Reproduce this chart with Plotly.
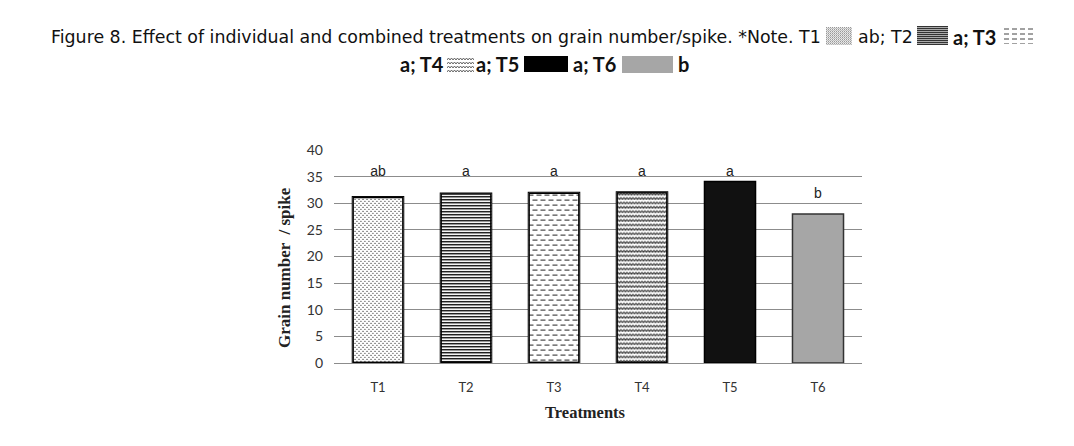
import base64
import plotly.graph_objects as go

# ---------------- data ----------------
treatments = ["T1", "T2", "T3", "T4", "T5", "T6"]
grain_per_spike = [31.2, 31.9, 32.0, 32.1, 34.1, 28.0]
letters = ["ab", "a", "a", "a", "a", "b"]
letter_y = [35.7, 35.7, 35.7, 35.7, 35.7, 31.6]
y_ticks = [0, 5, 10, 15, 20, 25, 30, 35, 40]

# ---------------- styles ----------------
bar_colors = ["white", "white", "white", "white", "#111111", "#a6a6a6"]
bar_line = ["#000000", "#000000", "#000000", "#000000", "#000000", "#333333"]
textures = ["dots", "hlines", "dashes", "waves", None, None]

W, H = 1074, 446
L, R, T, B = 334, 212, 150, 83
PW, PH = W - L - R, H - T - B
BARGAP = 0.42
Y_MAX = 40


def xp(px):
    return (px - L) / PW


def yp(py):
    return (H - B - py) / PH


def svg_uri(body, w, h):
    svg = (f'<svg xmlns="http://www.w3.org/2000/svg" width="{w:.2f}" height="{h:.2f}" '
           f'viewBox="0 0 {w:.2f} {h:.2f}">{body}</svg>')
    return "data:image/svg+xml;base64," + base64.b64encode(svg.encode()).decode()


def pat_body(inner, pw, ph, w, h, bg="white", border=None):
    s = (f'<defs><pattern id="p" width="{pw}" height="{ph}" patternUnits="userSpaceOnUse">'
         f'{inner}</pattern></defs><rect width="{w}" height="{h}" fill="{bg}"/>'
         f'<rect width="{w}" height="{h}" fill="url(#p)"/>')
    if border:
        s += (f'<rect x="0.7" y="0.7" width="{w - 1.4}" height="{h - 1.4}" fill="none" '
              f'stroke="{border}" stroke-width="1.4"/>')
    return s


TEX = {
    "dots": ('<rect x="0" y="0" width="1" height="1" fill="#111"/>'
             '<rect x="2" y="2" width="1" height="1" fill="#111"/>', 4, 4),
    "hlines": ('<rect x="0" y="0" width="3" height="1" fill="#000"/>'
               '<rect x="0" y="1" width="3" height="0.6" fill="#777"/>', 3, 3),
    "dashes": ('<line x1="0" y1="2.5" x2="5" y2="2.5" stroke="#222" stroke-width="1"/>'
               '<line x1="4" y1="7.5" x2="9" y2="7.5" stroke="#222" stroke-width="1"/>'
               '<line x1="-4" y1="7.5" x2="1" y2="7.5" stroke="#222" stroke-width="1"/>', 8, 10),
    "waves": ('<polyline points="0,3.2 1.5,1 3,3.2 4.5,1 6,3.2" fill="none" '
              'stroke="#222" stroke-width="0.9"/>', 6, 4.4),
}

fig = go.Figure()
fig.add_trace(go.Bar(
    x=treatments, y=grain_per_spike,
    marker=dict(color=bar_colors, line=dict(color=bar_line, width=1.5)),
    showlegend=False, hoverinfo="skip",
))
fig.add_trace(go.Scatter(
    x=treatments, y=letter_y, mode="text", text=letters,
    textfont=dict(family="Liberation Sans", size=14, color="#222222"),
    showlegend=False, hoverinfo="skip",
))

images = []
# bar textures, placed on the axes from the data values
bar_w = 1 - BARGAP
for i, (val, tex) in enumerate(zip(grain_per_spike, textures)):
    if tex is None:
        continue
    wpx = bar_w * PW / len(treatments)
    hpx = val * PH / Y_MAX
    inner, pw, ph = TEX[tex]
    images.append(dict(source=svg_uri(pat_body(inner, pw, ph, wpx, hpx, border="#000"), wpx, hpx),
                       xref="x", yref="y", x=i - bar_w / 2, y=val, sizex=bar_w, sizey=val,
                       xanchor="left", yanchor="top", sizing="stretch", layer="above"))

# legend-like swatches in the caption
swatches = [
    (826, 27, 26, 18, lambda w, h: pat_body(
        '<rect width="1" height="1" fill="#999"/><rect x="1" y="1" width="1" height="1" fill="#bbb"/>'
        '<rect x="1" width="1" height="1" fill="#eee"/><rect y="1" width="1" height="1" fill="#ddd"/>',
        2, 2, w, h)),
    (917, 26, 31, 19, lambda w, h: pat_body(
        '<rect width="2" height="1" fill="#333"/><rect y="1" width="2" height="1" fill="#aaa"/>',
        2, 2, w, h)),
    (1004, 27, 31, 17, lambda w, h: pat_body(
        '<line x1="0" y1="2" x2="5" y2="2" stroke="#444" stroke-width="1"/>',
        8, 5, w, h)),
    (447, 57, 27, 15, lambda w, h: pat_body(
        '<polyline points="0,3 1.5,1 3,3 4.5,1 6,3" fill="none" stroke="#555" stroke-width="0.9"/>',
        6, 4, w, h)),
    (524, 56, 44, 16, lambda w, h: f'<rect width="{w}" height="{h}" fill="#000"/>'),
    (622, 56, 51, 17, lambda w, h: f'<rect width="{w}" height="{h}" fill="#a6a6a6"/>'),
]
for (lx, ty, w, h, fn) in swatches:
    images.append(dict(source=svg_uri(fn(w, h), w, h), xref="paper", yref="paper",
                       x=xp(lx), y=yp(ty), sizex=w / PW, sizey=h / PH,
                       xanchor="left", yanchor="top", sizing="stretch", layer="above"))

t1font = dict(family="DejaVu Sans", size=17.4, color="#111111")
t2font = dict(family="Lato", size=20, color="#111111")

annotations = [
    dict(text="Figure 8. Effect of individual and combined treatments on grain number/spike. "
              "*Note. T1", x=xp(823), y=yp(37), xanchor="right", font=t1font),
    dict(text="ab; T2", x=xp(856), y=yp(37), xanchor="left", font=t1font),
    dict(text="<b>a; T3</b>", x=xp(951), y=yp(37), xanchor="left", font=t2font),
    dict(text="<b>a; T4</b>", x=xp(446), y=yp(64), xanchor="right", font=t2font),
    dict(text="<b>a; T5</b>", x=xp(474), y=yp(64), xanchor="left", font=t2font),
    dict(text="<b>a; T6</b>", x=xp(571), y=yp(64), xanchor="left", font=t2font),
    dict(text="<b>b</b>", x=xp(676), y=yp(64), xanchor="left", font=t2font),
    dict(text="<b>Grain number  / spike</b>", x=xp(284), y=yp(268), textangle=-90,
         xanchor="center", font=dict(family="Liberation Serif", size=17, color="#222222")),
    dict(text="<b>Treatments</b>", x=xp(585), y=yp(412), xanchor="center",
         font=dict(family="Liberation Serif", size=16.5, color="#222222")),
]
for a in annotations:
    a.update(xref="paper", yref="paper", showarrow=False, yanchor="middle")

fig.update_layout(
    width=W, height=H,
    margin=dict(l=L, r=R, t=T, b=B, pad=0),
    paper_bgcolor="white", plot_bgcolor="white",
    bargap=BARGAP,
    images=images,
    annotations=annotations,
    xaxis=dict(showline=True, linecolor="#8c8c8c", linewidth=1, ticks="",
               tickfont=dict(family="Lato", size=13, color="#333333"),
               ticklabelstandoff=12, showgrid=False, fixedrange=True),
    yaxis=dict(range=[0, Y_MAX], tickvals=y_ticks, showgrid=True, gridcolor="#8c8c8c",
               gridwidth=1, zeroline=False, showline=False, ticks="",
               tickfont=dict(family="Lato", size=14, color="#333333"),
               ticklabelstandoff=10, fixedrange=True),
)

fig.write_html("out.html")
